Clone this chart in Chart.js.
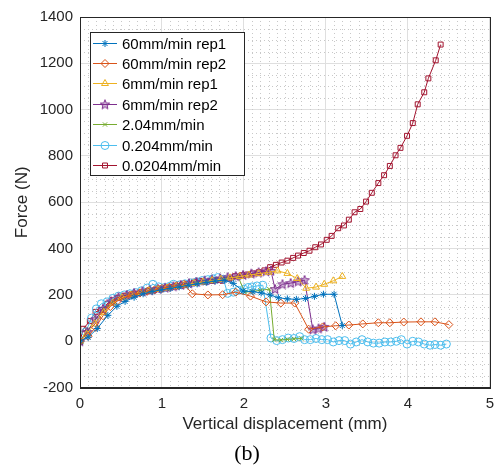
<!DOCTYPE html>
<html>
<head>
<meta charset="utf-8">
<script src="https://cdn.jsdelivr.net/npm/chart.js@4.4.0/dist/chart.umd.min.js"></script>
<style>
  html, body { margin: 0; padding: 0; background: #fff; }
</style>
</head>
<body>
<canvas id="grafico" width="501" height="467"></canvas>
<script>
// series values (displacement mm / force N)
const labels = ['60mm/min rep1', '60mm/min rep2', '6mm/min rep1', '6mm/min rep2', '2.04mm/min', '0.204mm/min', '0.0204mm/min'];

const rep1X = [0, 0.10, 0.21, 0.34, 0.45, 0.55, 0.66, 0.77, 0.88, 0.99, 1.10, 1.21, 1.32, 1.43, 1.54, 1.65, 1.76, 1.87, 1.99, 2.11, 2.21, 2.32, 2.42, 2.53, 2.64, 2.75, 2.86, 2.97, 3.10, 3.20];
const rep1Y = [0, 17, 55, 112, 151, 172, 190, 205, 215, 222, 228, 235, 242, 248, 254, 260, 264, 250, 217, 214, 209, 200, 188, 183, 181, 185, 194, 203, 203, 68];

const rep2X = [0, 0.10, 0.19, 0.28, 0.37, 0.46, 0.55, 0.64, 0.73, 0.82, 0.91, 1.00, 1.09, 1.18, 1.27, 1.37, 1.56, 1.74, 1.90, 2.08, 2.27, 2.45, 2.62, 2.79, 2.96, 3.12, 3.28, 3.45, 3.64, 3.78, 3.95, 4.16, 4.33, 4.50];
const rep2Y = [0, 22, 60, 110, 150, 175, 190, 200, 208, 216, 222, 228, 233, 240, 246, 205, 200, 201, 212, 195, 170, 165, 165, 52, 62, 67, 70, 75, 80, 80, 83, 84, 84, 72];

const slow1X = [0, 0.08, 0.18, 0.29, 0.40, 0.51, 0.62, 0.73, 0.84, 0.95, 1.06, 1.17, 1.28, 1.39, 1.50, 1.61, 1.72, 1.83, 1.95, 2.06, 2.18, 2.30, 2.41, 2.53, 2.65, 2.76, 2.88, 2.98, 3.09, 3.20];
const slow1Y = [0, 30, 75, 125, 165, 188, 200, 210, 218, 224, 230, 236, 243, 250, 256, 262, 268, 274, 280, 286, 292, 298, 304, 293, 271, 229, 234, 246, 261, 280];

const slow2X = [0, 0.09, 0.19, 0.28, 0.38, 0.47, 0.57, 0.66, 0.76, 0.85, 0.95, 1.04, 1.14, 1.23, 1.33, 1.42, 1.52, 1.61, 1.71, 1.80, 1.90, 1.99, 2.09, 2.18, 2.27, 2.33, 2.38, 2.47, 2.57, 2.66, 2.74, 2.84, 2.91, 2.98];
const slow2Y = [0, 40, 95, 140, 172, 190, 200, 208, 215, 220, 226, 231, 237, 243, 250, 256, 262, 266, 271, 276, 281, 286, 292, 297, 302, 304, 225, 246, 251, 258, 264, 51, 55, 62];

const r204X = [0, 0.10, 0.20, 0.30, 0.40, 0.50, 0.60, 0.70, 0.80, 0.90, 1.00, 1.10, 1.20, 1.30, 1.40, 1.50, 1.60, 1.70, 1.80, 1.93, 2.01, 2.10, 2.20, 2.31, 2.37, 2.45, 2.53, 2.61, 2.70];
const r204Y = [0, 50, 100, 140, 170, 188, 198, 207, 214, 220, 226, 231, 237, 244, 251, 257, 263, 268, 273, 278, 212, 215, 220, 225, 7, 5, 8, 10, 12];

const r0204X = [0, 0.07, 0.14, 0.20, 0.26, 0.33, 0.40, 0.47, 0.54, 0.61, 0.68, 0.75, 0.82, 0.89, 0.96, 1.03, 1.10, 1.14, 1.21, 1.28, 1.35, 1.42, 1.49, 1.56, 1.62, 1.68, 1.75, 1.80, 1.87, 1.93, 2.00, 2.05, 2.10, 2.16, 2.23, 2.33, 2.40, 2.47, 2.54, 2.61, 2.68, 2.74, 2.81, 2.88, 2.95, 3.02, 3.09, 3.16, 3.23, 3.30, 3.37, 3.44, 3.51, 3.58, 3.65, 3.72, 3.79, 3.86, 3.92, 3.99, 4.06, 4.13, 4.20, 4.27, 4.33, 4.40, 4.47];
const r0204Y = [0, 40, 100, 140, 162, 170, 185, 195, 200, 205, 210, 218, 230, 246, 235, 232, 238, 246, 243, 248, 252, 256, 262, 266, 270, 275, 268, 207, 212, 220, 225, 232, 235, 239, 242, 14, 3, 7, 14, 12, 20, 7, 7, 12, 7, 7, -3, 3, 3, -12, -3, 7, -3, -8, -8, -3, -3, 0, 7, -12, 0, -3, -12, -17, -14, -17, -12];

const r00204X = [0, 0.04, 0.12, 0.19, 0.26, 0.33, 0.39, 0.46, 0.54, 0.61, 0.68, 0.75, 0.83, 0.90, 0.97, 1.05, 1.12, 1.17, 1.24, 1.31, 1.39, 1.46, 1.53, 1.61, 1.67, 1.74, 1.82, 1.89, 1.97, 2.04, 2.11, 2.18, 2.25, 2.32, 2.39, 2.46, 2.53, 2.60, 2.66, 2.73, 2.80, 2.87, 2.94, 3.01, 3.07, 3.15, 3.22, 3.28, 3.35, 3.42, 3.49, 3.56, 3.64, 3.71, 3.78, 3.85, 3.91, 3.99, 4.06, 4.12, 4.20, 4.25, 4.34, 4.40];
const r00204Y = [0, 54, 87, 127, 135, 162, 177, 188, 197, 201, 206, 211, 217, 220, 228, 232, 235, 238, 242, 249, 257, 261, 257, 261, 265, 261, 271, 281, 285, 288, 293, 298, 306, 320, 330, 340, 348, 360, 370, 381, 391, 406, 418, 438, 455, 488, 500, 525, 557, 571, 603, 641, 683, 717, 757, 803, 835, 887, 942, 1023, 1075, 1135, 1213, 1281];

const xTicks = [0, 1, 2, 3, 4, 5];
const yTicks = [-200, 0, 200, 400, 600, 800, 1000, 1200, 1400];

const colors = ['#0072BD', '#D95319', '#EDB120', '#7E2F8E', '#77AC30', '#4DBEEE', '#A2142F'];

function pares(xs, ys) {
  return xs.map(function (v, i) { return { x: v, y: ys[i] } })
}

// pentagram marker (MATLAB 'p')
function pentagrama(cor) {
  const c = document.createElement('canvas');
  c.width = 12; c.height = 12;
  const g = c.getContext('2d');
  g.strokeStyle = cor; g.lineWidth = 1;
  g.beginPath();
  for (let k = 0; k < 10; k++) {
    const r = k % 2 ? 2.2 : 5;
    const a = -Math.PI / 2 + k * Math.PI / 5;
    const px = 6 + r * Math.cos(a), py = 6.3 + r * Math.sin(a);
    if (k) g.lineTo(px, py); else g.moveTo(px, py);
  }
  g.closePath();
  g.fillStyle = 'rgba(126,47,142,0.35)';
  g.fill();
  g.stroke();
  return c;
}

const series = [pares(rep1X, rep1Y), pares(rep2X, rep2Y), pares(slow1X, slow1Y), pares(slow2X, slow2Y), pares(r204X, r204Y), pares(r0204X, r0204Y), pares(r00204X, r00204Y)];
const markers = ['star', 'rectRot', 'triangle', pentagrama(colors[3]), 'crossRot', 'circle', 'rect'];
const radii = [3.5, 4, 4, 5, 3, 4, 3.5];

const datasets = series.map(function (d, i) {
  return {
    label: labels[i],
    data: d,
    showLine: true,
    borderColor: colors[i],
    borderWidth: 1,
    pointStyle: markers[i],
    pointRadius: radii[i],
    pointBorderColor: colors[i],
    pointBackgroundColor: 'rgba(0,0,0,0)',
    pointBorderWidth: 1
  }
});

const fonte = '"Liberation Sans", Arial, sans-serif';

// minor dotted grid + box
const gradeMenor = {
  id: 'gradeMenor',
  beforeDatasetsDraw(chart) {
    const { ctx, chartArea, scales } = chart;
    ctx.save();
    ctx.strokeStyle = '#c8c8c8';
    ctx.lineWidth = 1;
    ctx.setLineDash([1, 3]);
    for (let i = 1; i < 50; i++) {
      if (i % 10 === 0) continue;
      const px = Math.round(scales.x.getPixelForValue(i / 10)) + 0.5;
      ctx.beginPath(); ctx.moveTo(px, chartArea.top); ctx.lineTo(px, chartArea.bottom); ctx.stroke();
    }
    for (let v = -150; v < 1400; v += 50) {
      if (v % 200 === 0) continue;
      const py = Math.round(scales.y.getPixelForValue(v)) + 0.5;
      ctx.beginPath(); ctx.moveTo(chartArea.left, py); ctx.lineTo(chartArea.right, py); ctx.stroke();
    }
    ctx.restore();
  },
  afterDatasetsDraw(chart) {
    const { ctx, chartArea } = chart;
    ctx.save();
    ctx.strokeStyle = '#262626';
    ctx.lineWidth = 1;
    ctx.strokeRect(Math.round(chartArea.left) + 0.5, Math.round(chartArea.top) + 0.5,
      Math.round(chartArea.right - chartArea.left), Math.round(chartArea.bottom - chartArea.top));

    // legend inside, top-left
    const x0 = Math.round(chartArea.left) + 10, y0 = Math.round(chartArea.top) + 15;
    const w = 154, h = 143;
    ctx.fillStyle = '#fff';
    ctx.fillRect(x0, y0, w, h);
    ctx.strokeRect(x0 + 0.5, y0 + 0.5, w, h);
    ctx.font = '15px ' + fonte;
    ctx.textBaseline = 'middle';
    chart.data.datasets.forEach(function (ds, i) {
      const cy = Math.round(y0 + 10.5 + i * 20.4) + 0.5;
      ctx.strokeStyle = ds.borderColor;
      ctx.lineWidth = 1;
      ctx.beginPath(); ctx.moveTo(x0 + 3, cy); ctx.lineTo(x0 + 27, cy); ctx.stroke();
      ctx.fillStyle = 'rgba(0,0,0,0)';
      if (Chart.helpers && Chart.helpers.drawPoint) {
        Chart.helpers.drawPoint(ctx, { pointStyle: ds.pointStyle, radius: Math.min(ds.pointRadius, 4), borderWidth: 1, rotation: 0 }, x0 + 15, cy);
      }
      ctx.fillStyle = '#000';
      ctx.fillText(ds.label, x0 + 32, cy + 1);
    });
    ctx.restore();
  }
};

const config = {
  type: 'scatter',
  data: { datasets: datasets },
  options: {
    responsive: false,
    animation: false,
    layout: { padding: { top: 17, right: 7, left: 0, bottom: 0 } },
    plugins: {
      legend: { display: false },
      tooltip: { enabled: false },
      title: {
        display: true,
        text: '(b)',
        position: 'bottom',
        color: '#000',
        font: { family: '"Liberation Serif", "Times New Roman", serif', size: 22, weight: 'normal' },
        padding: { top: 0, bottom: 0 }
      }
    },
    scales: {
      x: {
        type: 'linear',
        min: 0, max: 5,
        afterBuildTicks: function (s) { s.ticks = xTicks.map(function (v) { return { value: v } }) },
        afterFit: function (s) { s.height = 53 },
        ticks: { color: '#262626', font: { family: fonte, size: 15 }, padding: 7, maxRotation: 0, callback: function (v) { return String(v) } },
        grid: { color: '#dfdfdf', drawTicks: false },
        border: { color: '#262626', width: 1 },
        title: { display: true, text: 'Vertical displacement (mm)', color: '#262626', font: { family: fonte, size: 17 }, padding: { top: 0, bottom: 6 } }
      },
      y: {
        type: 'linear',
        min: -200, max: 1400,
        afterBuildTicks: function (s) { s.ticks = yTicks.map(function (v) { return { value: v } }) },
        afterFit: function (s) { s.width = 80 },
        ticks: { color: '#262626', font: { family: fonte, size: 15 }, padding: 7, callback: function (v) { return String(v) } },
        grid: { color: '#dfdfdf', drawTicks: false },
        border: { color: '#262626', width: 1 },
        title: { display: true, text: 'Force (N)', color: '#262626', font: { family: fonte, size: 17 }, padding: { top: 12, bottom: 0 } }
      }
    }
  },
  plugins: [gradeMenor]
};

const grafico = new Chart(document.getElementById('grafico'), config);
</script>
</body>
</html>
